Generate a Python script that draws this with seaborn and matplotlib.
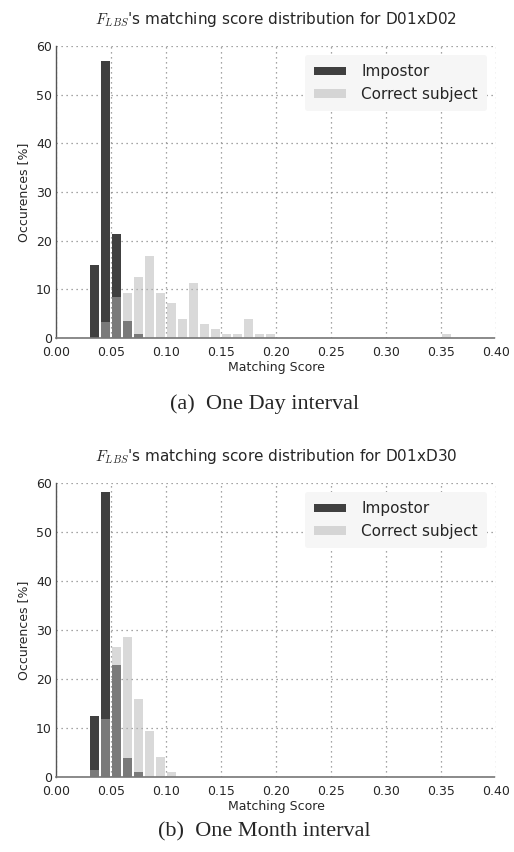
import numpy as np
import pandas as pd
import matplotlib
matplotlib.use("Agg")
import matplotlib.pyplot as plt
from matplotlib.patches import Patch
import seaborn as sns

# Histogram bin starts (matching score) and heights (%)
day_impostor_bins = [0.03, 0.04, 0.05, 0.06, 0.07]
day_impostor_pct = [14.9, 57.0, 21.3, 3.5, 0.9]
day_correct_bins = [0.04, 0.05, 0.06, 0.07, 0.08, 0.09, 0.10, 0.11, 0.12,
                    0.13, 0.14, 0.15, 0.16, 0.17, 0.18, 0.19, 0.35]
day_correct_pct = [3.2, 8.5, 9.3, 12.5, 16.8, 9.3, 7.2, 4.0, 11.4,
                   2.9, 1.9, 0.9, 0.9, 4.0, 0.9, 0.9, 0.9]

month_impostor_bins = [0.03, 0.04, 0.05, 0.06, 0.07]
month_impostor_pct = [12.4, 58.2, 22.8, 3.8, 1.0]
month_correct_bins = [0.03, 0.04, 0.05, 0.06, 0.07, 0.08, 0.09, 0.10]
month_correct_pct = [1.4, 11.8, 26.5, 28.5, 15.9, 9.3, 4.1, 1.0]

bin_width = 0.01
x_ticks = [0.00, 0.05, 0.10, 0.15, 0.20, 0.25, 0.30, 0.35, 0.40]
y_ticks = [0, 10, 20, 30, 40, 50, 60]

titles = [r"$F_{LBS}$'s matching score distribution for D01xD02",
          r"$F_{LBS}$'s matching score distribution for D01xD30"]
captions = ["(a)  One Day interval", "(b)  One Month interval"]

sns.set_style("whitegrid")
plt.rcParams["font.family"] = ["DejaVu Sans"]
plt.rcParams["mathtext.fontset"] = "cm"

imp_color = "#404040"
cor_color = "#b5b5b5"
cor_alpha = 0.5

fig = plt.figure(figsize=(5.14, 8.52), dpi=100)
ax_top = fig.add_axes([0.109, 0.6033, 0.856, 0.3427])
ax_bot = fig.add_axes([0.109, 0.088, 0.856, 0.345])

panels = [
    (ax_top, day_impostor_bins, day_impostor_pct, day_correct_bins, day_correct_pct),
    (ax_bot, month_impostor_bins, month_impostor_pct, month_correct_bins, month_correct_pct),
]


def draw_hist(ax, bins, pct, color, alpha):
    df = pd.DataFrame({"score": [b + bin_width / 2 for b in bins], "pct": pct})
    edges = [round(bins[0] + k * bin_width, 4)
             for k in range(int(round((bins[-1] - bins[0]) / bin_width)) + 2)]
    sns.histplot(data=df, x="score", weights="pct", bins=edges, shrink=0.9,
                 color=color, alpha=alpha, edgecolor="none", linewidth=0, ax=ax)


for i, (ax, ib, iv, cb, cv) in enumerate(panels):
    draw_hist(ax, ib, iv, imp_color, 1.0)
    draw_hist(ax, cb, cv, cor_color, cor_alpha)

    ax.set_xlim(0, 0.40)
    ax.set_ylim(0, 60)
    ax.set_xticks(x_ticks)
    ax.set_xticklabels([f"{t:.2f}" for t in x_ticks])
    ax.set_yticks(y_ticks)
    ax.tick_params(axis="both", labelsize=9, length=0)
    ax.tick_params(axis="x", pad=6)
    ax.tick_params(axis="y", pad=3)
    ax.grid(True, linestyle=(0, (1, 3)), color="#888888", linewidth=0.9)
    ax.set_axisbelow(True)
    for side in ["top", "right"]:
        ax.spines[side].set_visible(False)
    ax.spines["left"].set_color("#555555")
    ax.spines["left"].set_linewidth(1.0)
    ax.spines["bottom"].set_color("#777777")
    ax.spines["bottom"].set_linestyle((0, (1, 1)))
    ax.spines["bottom"].set_linewidth(1.2)

    ax.set_xlabel("Matching Score", fontsize=9, labelpad=1)
    ax.set_ylabel("Occurences [%]", fontsize=9, labelpad=4)
    ax.set_title(titles[i], fontsize=11, pad=16)

    handles = [Patch(facecolor=imp_color, edgecolor="none"),
               Patch(facecolor=cor_color, alpha=cor_alpha, edgecolor="none")]
    leg = ax.legend(handles, ["Impostor", "Correct subject"], loc="upper right",
                    fontsize=11, frameon=True, handlelength=2.1, handleheight=0.5,
                    borderaxespad=0.6, labelspacing=0.5, borderpad=0.6,
                    handletextpad=1.0)
    leg.get_frame().set_facecolor("#f6f6f6")
    leg.get_frame().set_edgecolor("none")
    leg.get_frame().set_alpha(1.0)

fig.text(0.514, 1 - 404 / 852, captions[0], ha="center", va="center",
         fontsize=16, family=["Liberation Serif", "DejaVu Serif"])
fig.text(0.514, 1 - 832 / 852, captions[1], ha="center", va="center",
         fontsize=16, family=["Liberation Serif", "DejaVu Serif"])

fig.savefig("out.png", dpi=100)
